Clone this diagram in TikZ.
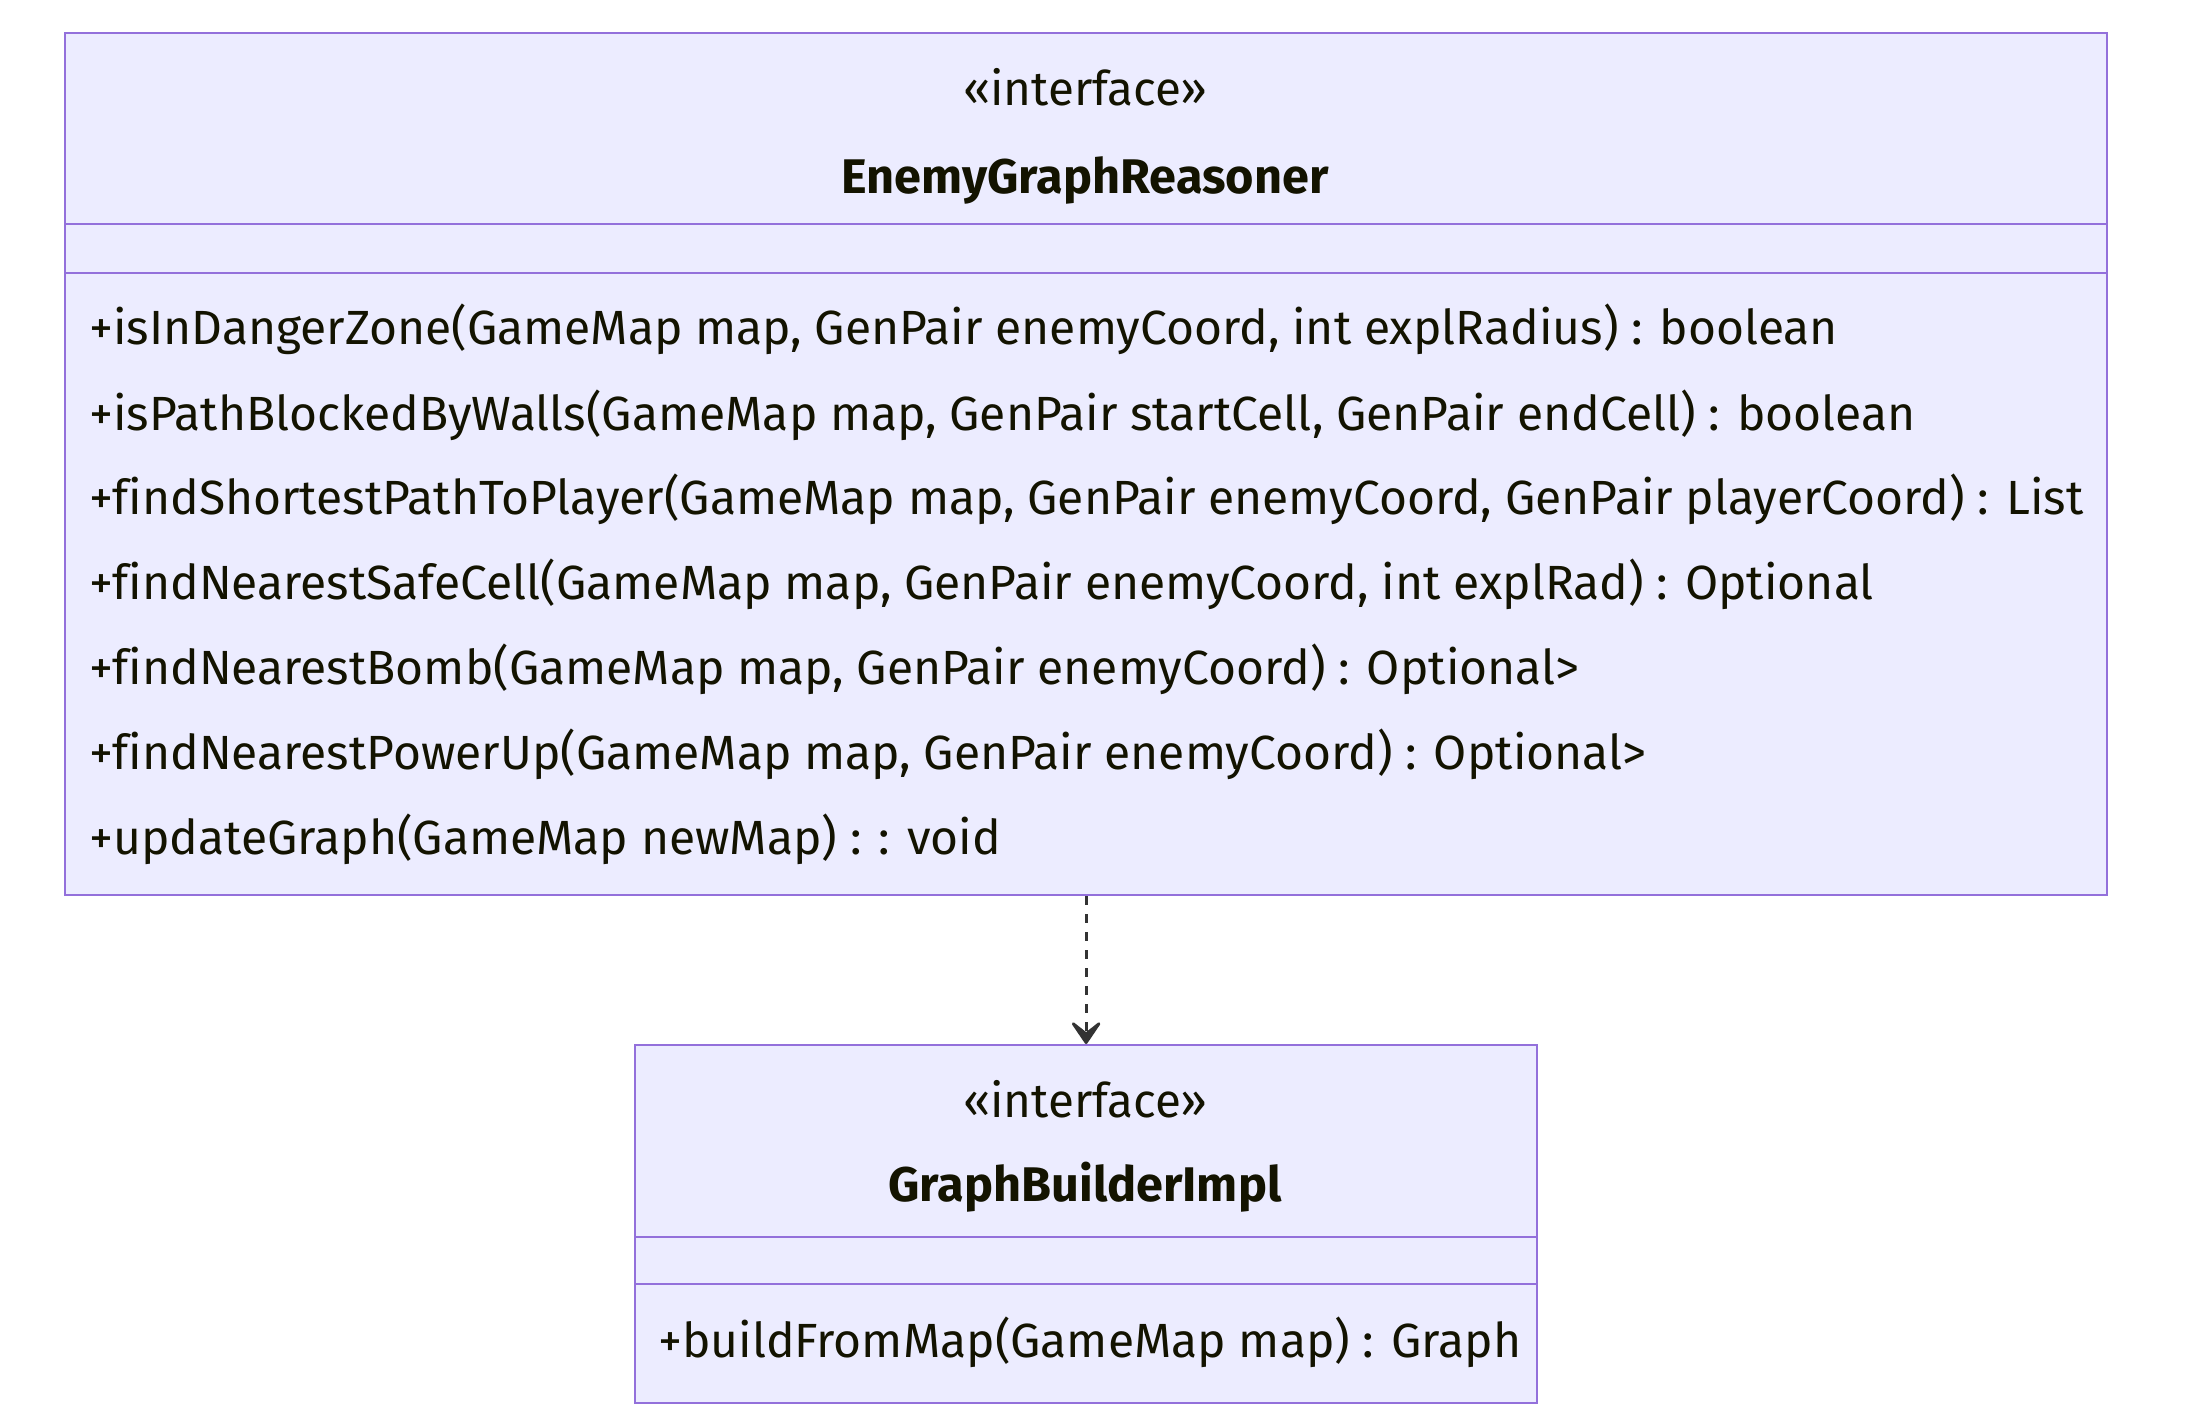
\documentclass[tikz,border=0pt]{standalone}
\usepackage{fontspec}
\setmainfont{Fira Sans}[Ligatures={NoCommon}]
\usetikzlibrary{arrows.meta}
\definecolor{boxfill}{HTML}{ECECFF}
\definecolor{boxline}{HTML}{9370DB}
\definecolor{txt}{HTML}{131300}
\definecolor{arr}{HTML}{333333}
\newlength\mwM
\newlength\mwB
\newlength\mwS
\begin{document}
\settowidth{\mwM}{\fontsize{20pt}{24pt}\selectfont +findShortestPathToPlayer(GameMap map, GenPair enemyCoord, GenPair playerCoord) : List}%
\settowidth{\mwB}{\fontsize{20pt}{24pt}\selectfont\bfseries EnemyGraphReasoner}%
\settowidth{\mwS}{\fontsize{20pt}{24pt}\selectfont «interface»}%
\pgfmathsetmacro{\fsM}{(997/\mwM)*20}%
\pgfmathsetmacro{\fsB}{(243.5/\mwB)*20}%
\pgfmathsetmacro{\fsS}{(122/\mwS)*20}%
\begin{tikzpicture}[x=0.5pt,y=-0.5pt]
\tikzset{
  umlbox/.style={draw=boxline, fill=boxfill, line width=1.1pt, inner sep=0pt, anchor=north west},
  divider/.style={draw=boxline, line width=1.1pt},
  mtext/.style={font=\fontsize{\fsM pt}{30pt}\selectfont, text=txt, inner sep=0pt, anchor=base west},
  stereo/.style={font=\fontsize{\fsS pt}{30pt}\selectfont, text=txt, inner sep=0pt, anchor=base},
  cname/.style={font=\fontsize{\fsB pt}{30pt}\selectfont\bfseries, text=txt, inner sep=0pt, anchor=base},
  dep/.style={draw=arr, line width=1.4pt, dash pattern=on 4.5pt off 4.5pt,
    -{Stealth[length=14pt, width=19pt, inset=7.5pt, fill=arr, line join=round]}}
}
\useasboundingbox (0,0) rectangle (2198,1422);
% top class
\node[umlbox, minimum width=1021pt, minimum height=431pt] (A) at (64,32) {};
\draw[divider] (64,224) -- (2106,224);
\draw[divider] (64,273) -- (2106,273);
\node[stereo] (sA) at (1085,106) {«interface»};
\node[cname] (nA) at (1085,194) {EnemyGraphReasoner};
\node[mtext] (m1) at (89,345) {+isInDangerZone(GameMap map, GenPair enemyCoord, int explRadius) : boolean};
\node[mtext] (m2) at (89,430) {+isPathBlockedByWalls(GameMap map, GenPair startCell, GenPair endCell) : boolean};
\node[mtext] (m3) at (89,515) {+findShortestPathToPlayer(GameMap map, GenPair enemyCoord, GenPair playerCoord) : List};
\node[mtext] (m4) at (89,599) {+findNearestSafeCell(GameMap map, GenPair enemyCoord, int explRad) : Optional};
\node[mtext] (m5) at (89,684) {+findNearestBomb(GameMap map, GenPair enemyCoord) : Optional>};
\node[mtext] (m6) at (89,769) {+findNearestPowerUp(GameMap map, GenPair enemyCoord) : Optional>};
\node[mtext] (m7) at (89,854) {+updateGraph(GameMap newMap) : : void};
% bottom class
\node[umlbox, minimum width=451pt, minimum height=179pt] (B) at (634,1044) {};
\draw[divider] (634,1237) -- (1536,1237);
\draw[divider] (634,1284) -- (1536,1284);
\node[stereo] (sB) at (1085,1117) {«interface»};
\node[cname] (nB) at (1085,1201) {GraphBuilderImpl};
\node[mtext] (b1) at (658,1357) {+buildFromMap(GameMap map) : Graph};
% dependency
\draw[dep] (A.south) -- (B.north);
\end{tikzpicture}
\end{document}
